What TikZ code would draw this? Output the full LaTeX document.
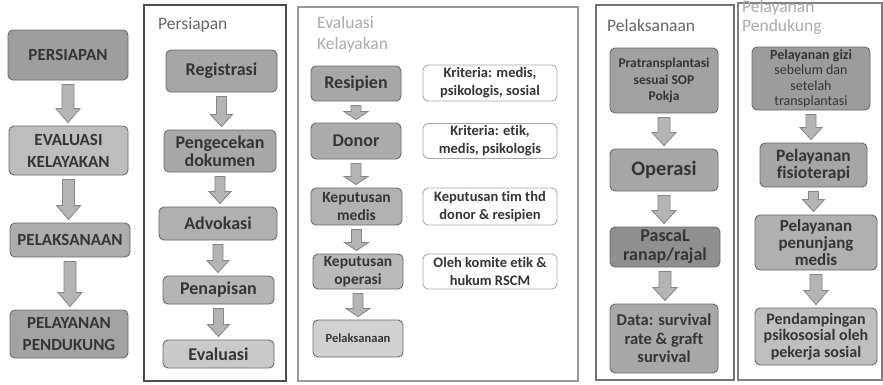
\documentclass[tikz,border=0pt]{standalone}
\usepackage{fontspec}
\setmainfont{Carlito}[Ligatures=NoCommon]
\usepackage{tikz}
\usetikzlibrary{calc,positioning}
\definecolor{txt}{HTML}{353535}
\definecolor{boxline}{HTML}{6A6A6A}
\definecolor{critline}{HTML}{A8A8A8}
\definecolor{arrfill}{HTML}{B4B4B4}
\definecolor{arrline}{HTML}{858585}
\definecolor{darktitle}{HTML}{666666}
\definecolor{lighttitle}{HTML}{ABABAB}
\newcommand{\fsz}[2]{\fontsize{#1}{#2}\selectfont}
% block arrow: from, to, shaft half width, head half width, head length
\newcommand{\blockarrow}[5]{%
  \path[blockarr] let \p1=($(#1.south)+(0,-4pt)$), \p2=($(#2.north)+(0,3pt)$) in
    (\x1-#3,\y1) -- (\x1+#3,\y1) -- (\x1+#3,\y2+#5) -- (\x1+#4,\y2+#5)
    -- (\x1,\y2) -- (\x1-#4,\y2+#5) -- (\x1-#3,\y2+#5) -- cycle;}

\begin{document}
\begin{tikzpicture}[x=1pt,y=-1pt,every node/.style={text=txt}]
\tikzstyle{box}=[draw=boxline,line width=0.9pt,rounded corners=5pt,align=center,inner sep=1pt]
\tikzstyle{crit}=[box,fill=white,draw=critline,minimum width=134pt]
\tikzstyle{panel}=[line width=1.2pt]
\tikzstyle{title}=[anchor=west,align=left,inner sep=0pt,font=\fsz{17.5}{21}]
\tikzstyle{blockarr}=[fill=arrfill,draw=arrline,line width=0.8pt,line join=miter]

\fill[white] (0,0) rectangle (883,384);
\useasboundingbox (0,0) rectangle (883,384);

% overview column
\node[box,fill=black!38,minimum width=120pt,minimum height=50pt,font=\bfseries\fsz{17}{22}] (persiapan) at (68,55) {PERSIAPAN};
\node[box,fill=black!26,minimum width=119pt,minimum height=49pt,font=\bfseries\fsz{17}{22}] (evalkel) at (68.5,150.5) {EVALUASI\\KELAYAKAN};
\node[box,fill=black!32,minimum width=120pt,minimum height=34pt,font=\bfseries\fsz{17}{22}] (pelaks) at (70,240) {PELAKSANAAN};
\node[box,fill=black!36,minimum width=118pt,minimum height=48pt,font=\bfseries\fsz{17}{22}] (pendukung) at (69,334) {PELAYANAN\\PENDUKUNG};
\blockarrow{persiapan}{evalkel}{6pt}{12pt}{14pt}
\blockarrow{evalkel}{pelaks}{6pt}{12pt}{14pt}
\blockarrow{pelaks}{pendukung}{6pt}{12pt}{14pt}

% Persiapan
\draw[panel,draw=black!70] (144,5) rectangle (286,381);
\node[title,text=darktitle] (ttlpersiapan) at (158,25) {Persiapan};
\node[box,fill=black!35,minimum width=111pt,minimum height=42pt,font=\bfseries\fsz{18}{19}] (registrasi) at (221.5,71) {Registrasi};
\node[box,fill=black!34,minimum width=112pt,minimum height=42pt,font=\bfseries\fsz{18}{18.5}] (pengecekan) at (220,151) {Pengecekan\\dokumen};
\node[box,fill=black!31,minimum width=118pt,minimum height=33pt,font=\bfseries\fsz{18}{19}] (advokasi) at (218,223.5) {Advokasi};
\node[box,fill=black!29,minimum width=111pt,minimum height=28pt,font=\bfseries\fsz{18}{19}] (penapisan) at (218.5,290) {Penapisan};
\node[box,fill=black!21,minimum width=111pt,minimum height=28pt,font=\bfseries\fsz{18}{19}] (evaluasi) at (218.5,354) {Evaluasi};
\blockarrow{registrasi}{pengecekan}{5pt}{11pt}{12pt}
\blockarrow{pengecekan}{advokasi}{5pt}{11pt}{12pt}
\blockarrow{advokasi}{penapisan}{5pt}{11pt}{12pt}
\blockarrow{penapisan}{evaluasi}{5pt}{11pt}{12pt}

% Evaluasi Kelayakan
\draw[panel,draw=black!40] (298,7) rectangle (578,381);
\node[title,text=lighttitle] (ttlevaluasi) at (317,34) {Evaluasi\\Kelayakan};
\node[box,fill=black!34,minimum width=90pt,minimum height=35pt,font=\bfseries\fsz{18}{18}] (resipien) at (356,83.5) {Resipien};
\node[box,fill=black!33,minimum width=90pt,minimum height=36pt,font=\bfseries\fsz{18}{18}] (donor) at (356,141) {Donor};
\node[box,fill=black!30,minimum width=91pt,minimum height=37pt,font=\bfseries\fsz{15.5}{18}] (kepmedis) at (356.5,206.5) {Keputusan\\medis};
\node[box,fill=black!27,minimum width=90pt,minimum height=35pt,font=\bfseries\fsz{15.5}{18}] (kepoperasi) at (358,271.5) {Keputusan\\operasi};
\node[box,fill=black!18,minimum width=90pt,minimum height=37pt,font=\bfseries\fsz{12.5}{15}] (pelaksanaan) at (358,338.5) {Pelaksanaan};
\node[crit,minimum height=36pt,font=\bfseries\fsz{14.5}{18}] (kritresipien) at (490,83) {Kriteria: medis,\\psikologis, sosial};
\node[crit,minimum height=35pt,font=\bfseries\fsz{14.5}{18}] (kritdonor) at (490,141) {Kriteria: etik,\\medis, psikologis};
\node[crit,minimum height=37pt,font=\bfseries\fsz{14.5}{18}] (kritmedis) at (490,206.5) {Keputusan tim thd\\donor \& resipien};
\node[crit,minimum height=35pt,font=\bfseries\fsz{14.5}{18}] (kritoperasi) at (490,271.5) {Oleh komite etik \&\\hukum RSCM};
\blockarrow{resipien}{donor}{5pt}{12pt}{8pt}
\blockarrow{donor}{kepmedis}{5pt}{12pt}{8pt}
\blockarrow{kepmedis}{kepoperasi}{5pt}{12pt}{8pt}
\blockarrow{kepoperasi}{pelaksanaan}{5pt}{12pt}{8pt}

% Pelaksanaan
\draw[panel,draw=black!55] (596,5) rectangle (734,380);
\node[title,text=darktitle] (ttlpelaksanaan) at (607,25) {Pelaksanaan};
\node[box,fill=black!37,minimum width=108pt,minimum height=65pt,font=\bfseries\fsz{13.5}{16.5}] (pratrans) at (664,80.5) {Pratransplantasi\\sesuai SOP\\Pokja};
\node[box,fill=black!35,minimum width=108pt,minimum height=42pt,font=\bfseries\fsz{20.5}{21}] (operasi) at (664,170) {Operasi};
\node[box,fill=black!44,minimum width=110pt,minimum height=40pt,font=\bfseries\fsz{18}{19}] (pasca) at (665,247) {PascaL\\ranap/rajal};
\node[box,fill=black!34,minimum width=108pt,minimum height=69pt,font=\bfseries\fsz{16.5}{18.3}] (data) at (664,338.5) {Data: survival\\rate \& graft\\survival};
\blockarrow{pratrans}{operasi}{6pt}{12pt}{13pt}
\blockarrow{operasi}{pasca}{6pt}{12pt}{13pt}
\blockarrow{pasca}{data}{6pt}{12pt}{13pt}

% Pelayanan Pendukung
\draw[panel,draw=black!50] (738,3) rectangle (882,380);
\node[title,text=lighttitle,font=\fsz{17.5}{19}] (ttlpendukung) at (742,17.5) {Pelayanan\\Pendukung};
\node[box,fill=black!39,minimum width=118pt,minimum height=63pt,font=\fsz{14}{15.5}] (gizi) at (811,78.5) {\textbf{Pelayanan gizi}\\sebelum dan\\setelah\\transplantasi};
\node[box,fill=black!35,minimum width=107pt,minimum height=44pt,font=\bfseries\fsz{17.5}{17.5}] (fisio) at (813.5,165) {Pelayanan\\fisioterapi};
\node[box,fill=black!31,minimum width=122pt,minimum height=55pt,font=\bfseries\fsz{17}{16.7}] (penunjang) at (816,242.5) {Pelayanan\\penunjang\\medis};
\node[box,fill=black!25,minimum width=122pt,minimum height=57pt,font=\bfseries\fsz{16}{16.7}] (pendampingan) at (816,336.5) {Pendampingan\\psikososial oleh\\pekerja sosial};
\blockarrow{gizi}{fisio}{5pt}{11pt}{12pt}
\blockarrow{fisio}{penunjang}{5pt}{11pt}{12pt}
\blockarrow{penunjang}{pendampingan}{6pt}{12pt}{14pt}
\end{tikzpicture}
\end{document}
